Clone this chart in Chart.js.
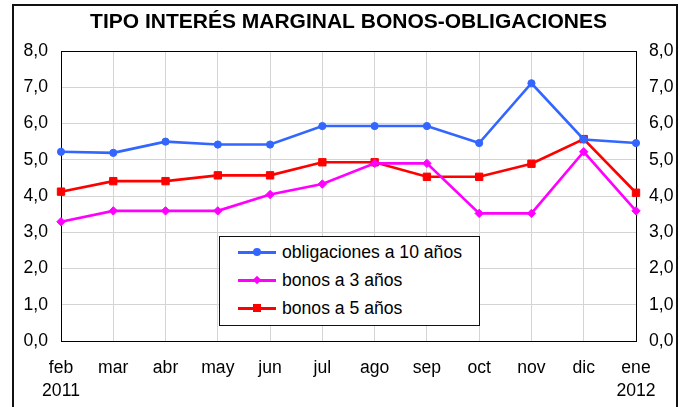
<!DOCTYPE html>
<html>
<head>
<meta charset="utf-8">
<script src="https://cdn.jsdelivr.net/npm/chart.js@4"></script>
<style>
    html, body { margin: 0; padding: 0; background: #fff; }
    body { width: 688px; height: 407px; position: relative; overflow: hidden; font-family: "Liberation Sans", Arial, sans-serif; }
    #marco { position: absolute; left: 12px; top: 4px; width: 662px; height: 420px; border: 2px solid #111; }
    #lienzo { position: absolute; left: 0; top: 0; }
    #leyenda { position: absolute; left: 219px; top: 236px; width: 259px; height: 87px; border: 1px solid #111; background: #fff; padding-top: 1px; box-sizing: content-box; }
    .fila { height: 28px; display: flex; align-items: center; font-size: 17.6px; color: #000; }
    .muestra { position: relative; width: 38px; height: 3px; margin-left: 18px; margin-right: 6px; }
    .marca { position: absolute; left: 50%; top: 50%; }
</style>
</head>
<body>
<div id="marco"></div>
<canvas id="lienzo" width="688" height="407"></canvas>
<div id="leyenda"></div>
<script>
// ── Datos: tipo de interés marginal (%) feb 2011 – ene 2012 ──────────────

const meses = [["feb", "2011"], ["mar"], ["abr"], ["may"], ["jun"], ["jul"], ["ago"], ["sep"], ["oct"], ["nov"], ["dic"], ["ene", "2012"]];

const obligaciones10 = [5.22, 5.19, 5.50, 5.42, 5.42, 5.93, 5.93, 5.93, 5.46, 7.11, 5.56, 5.46];
const bonos3 = [3.29, 3.59, 3.59, 3.59, 4.04, 4.33, 4.90, 4.90, 3.52, 3.52, 5.22, 3.59];
const bonos5 = [4.12, 4.41, 4.41, 4.57, 4.57, 4.93, 4.93, 4.53, 4.53, 4.89, 5.57, 4.09];

const series = [
    { label: "obligaciones a 10 años", data: obligaciones10, color: "#3366ff", estilo: "circle", radio: 3.6 },
    { label: "bonos a 3 años", data: bonos3, color: "#ff00ff", estilo: "rectRot", radio: 4.2 },
    { label: "bonos a 5 años", data: bonos5, color: "#ff0000", estilo: "rect", radio: 5.2 },
];

const fuente = "'Liberation Sans', Arial, sans-serif";
const formatoEje = (v) => v.toFixed(1).replace(".", ",");

new Chart(document.getElementById("lienzo"), {
    type: "line",
    data: {
        labels: meses,
        datasets: series.map((s) => ({
            label: s.label,
            data: s.data,
            borderColor: s.color,
            backgroundColor: s.color,
            borderWidth: 2.6,
            pointStyle: s.estilo,
            pointRadius: s.radio,
            pointBorderWidth: 1,
            pointBorderColor: s.color,
            pointBackgroundColor: s.color,
            tension: 0,
            fill: false,
            clip: false,
        })),
    },
    options: {
        responsive: false,
        animation: false,
        layout: { padding: 0 },
        scales: {
            x: {
                offset: false,
                grid: { color: "#d4d4d4", lineWidth: 1, drawTicks: false },
                border: { color: "#000", width: 1 },
                ticks: {
                    padding: 15,
                    color: "#000",
                    maxRotation: 0,
                    autoSkip: false,
                    font: { family: fuente, size: 17.6, lineHeight: 1.35 },
                },
                afterFit: (eje) => { eje.height = 66; },
            },
            y: {
                position: "left",
                min: 0,
                max: 8,
                grid: {
                    color: (ctx) => (ctx.tick && ctx.tick.value === 8 ? "#000" : "#d4d4d4"),
                    drawTicks: false,
                },
                border: { color: "#000", width: 1 },
                ticks: {
                    stepSize: 1,
                    padding: 13,
                    color: "#000",
                    font: { family: fuente, size: 17.6 },
                    callback: formatoEje,
                },
                afterFit: (eje) => { eje.width = 61; },
            },
            y2: {
                position: "right",
                min: 0,
                max: 8,
                grid: { display: false, drawTicks: false },
                border: { color: "#000", width: 1 },
                ticks: {
                    stepSize: 1,
                    padding: 13,
                    color: "#000",
                    font: { family: fuente, size: 17.6 },
                    callback: formatoEje,
                },
                afterFit: (eje) => { eje.width = 52; },
            },
        },
        plugins: {
            legend: { display: false },
            tooltip: { enabled: false },
            title: {
                display: true,
                text: "TIPO INTERÉS MARGINAL BONOS-OBLIGACIONES",
                color: "#000",
                fullSize: false,
                font: { family: fuente, size: 21, weight: "bold", lineHeight: 1.2 },
                padding: { top: 10, bottom: 15.8 },
            },
        },
    },
});

// ── Leyenda en HTML dentro del área del gráfico ──────────────────────────

const leyenda = document.getElementById("leyenda");
series.forEach((s) => {
    const fila = document.createElement("div");
    fila.className = "fila";
    const muestra = document.createElement("span");
    muestra.className = "muestra";
    muestra.style.background = s.color;
    const marca = document.createElement("span");
    marca.className = "marca";
    marca.style.background = s.color;
    if (s.estilo === "circle") {
        marca.style.width = "8px"; marca.style.height = "8px";
        marca.style.borderRadius = "50%";
        marca.style.transform = "translate(-50%, -50%)";
    } else if (s.estilo === "rectRot") {
        marca.style.width = "6px"; marca.style.height = "6px";
        marca.style.transform = "translate(-50%, -50%) rotate(45deg)";
    } else {
        marca.style.width = "8px"; marca.style.height = "8px";
        marca.style.transform = "translate(-50%, -50%)";
    }
    muestra.appendChild(marca);
    const texto = document.createElement("span");
    texto.textContent = s.label;
    fila.appendChild(muestra);
    fila.appendChild(texto);
    leyenda.appendChild(fila);
});
</script>
</body>
</html>
